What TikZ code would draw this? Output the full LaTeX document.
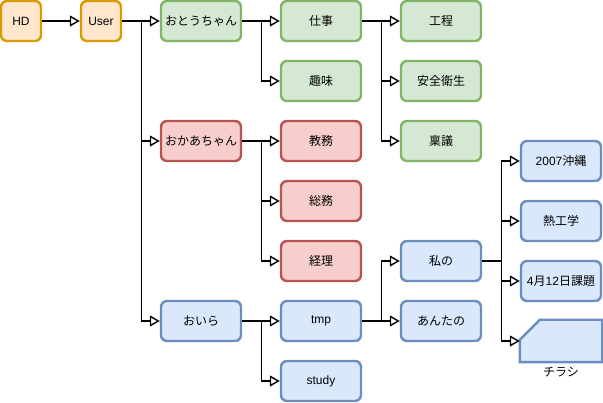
\documentclass[tikz,border=0pt]{standalone}
\usepackage{fontspec}
\setmainfont{Liberation Sans}
\newfontfamily\jp{Noto Sans CJK JP}
\usetikzlibrary{arrows.meta,positioning}
\definecolor{orangefill}{HTML}{FFE6CC}
\definecolor{orangeline}{HTML}{D79B00}
\definecolor{greenfill}{HTML}{D5E8D4}
\definecolor{greenline}{HTML}{82B366}
\definecolor{redfill}{HTML}{F8CECC}
\definecolor{redline}{HTML}{B85450}
\definecolor{bluefill}{HTML}{DAE8FC}
\definecolor{blueline}{HTML}{6C8EBF}
\begin{document}
\begin{tikzpicture}[x=1pt, y=-1pt, every node/.style={font=\fontsize{12}{14}\selectfont},
    box/.style={rectangle, rounded corners=6pt, line width=2.4pt, minimum width=80pt, minimum height=40pt, inner sep=0pt},
    narrow/.style={minimum width=40pt},
    orangebox/.style={box, draw=orangeline, fill=orangefill},
    greenbox/.style={box, draw=greenline, fill=greenfill},
    redbox/.style={box, draw=redline, fill=redfill},
    bluebox/.style={box, draw=blueline, fill=bluefill},
    link/.style={line width=1.4pt, -{Triangle[length=10pt, width=11pt, fill=white]}}]
    \useasboundingbox (0,0) rectangle (603,403);

    \node[orangebox, narrow] (hd) at (21,21) {HD};
    \node[orangebox, narrow] (user) at (101,21) {User};

    \node[greenbox] (otochan) at (201,21) {\jp おとうちゃん};
    \node[greenbox] (shigoto) at (321,21) {\jp 仕事};
    \node[greenbox] (shumi) at (321,81) {\jp 趣味};
    \node[greenbox] (kotei) at (441,21) {\jp 工程};
    \node[greenbox] (anzen) at (441,81) {\jp 安全衛生};
    \node[greenbox] (ringi) at (441,141) {\jp 稟議};

    \node[redbox] (okachan) at (201,141) {\jp おかあちゃん};
    \node[redbox] (kyomu) at (321,141) {\jp 教務};
    \node[redbox] (somu) at (321,201) {\jp 総務};
    \node[redbox] (keiri) at (321,261) {\jp 経理};

    \node[bluebox] (oira) at (201,321) {\jp おいら};
    \node[bluebox] (tmp) at (321,321) {tmp};
    \node[bluebox] (study) at (321,381) {study};
    \node[bluebox] (watashi) at (441,261) {\jp 私の};
    \node[bluebox] (anta) at (441,321) {\jp あんたの};
    \node[bluebox] (okinawa) at (561,161) {2007{\jp 沖縄}};
    \node[bluebox] (netsu) at (561,221) {\jp 熱工学};
    \node[bluebox] (kadai) at (561,281) {4{\jp 月}12{\jp 日課題}};
    \node[box] (chirashi) at (561,341) {};
    \filldraw[draw=blueline, fill=bluefill, line width=2.4pt] (chirashi.south west) -- (chirashi.south east) -- (chirashi.north east)
        -- ([xshift=20pt]chirashi.north west) -- ([yshift=-20pt]chirashi.north west) -- cycle;
    \node[below=2pt of chirashi] (chirashitext) {\jp チラシ};

    \draw[link] (hd) -- (user);
    \draw[link] (user.east) -- ++(19,0) |- (otochan.west);
    \draw[link] (user.east) -- ++(19,0) |- (okachan.west);
    \draw[link] (user.east) -- ++(19,0) |- (oira.west);

    \draw[link] (otochan.east) -- ++(19,0) |- (shigoto.west);
    \draw[link] (otochan.east) -- ++(19,0) |- (shumi.west);
    \draw[link] (shigoto.east) -- ++(19,0) |- (kotei.west);
    \draw[link] (shigoto.east) -- ++(19,0) |- (anzen.west);
    \draw[link] (shigoto.east) -- ++(19,0) |- (ringi.west);

    \draw[link] (okachan.east) -- ++(19,0) |- (kyomu.west);
    \draw[link] (okachan.east) -- ++(19,0) |- (somu.west);
    \draw[link] (okachan.east) -- ++(19,0) |- (keiri.west);

    \draw[link] (oira.east) -- ++(19,0) |- (tmp.west);
    \draw[link] (oira.east) -- ++(19,0) |- (study.west);
    \draw[link] (tmp.east) -- ++(19,0) |- (watashi.west);
    \draw[link] (tmp.east) -- ++(19,0) |- (anta.west);
    \draw[link] (watashi.east) -- ++(19,0) |- (okinawa.west);
    \draw[link] (watashi.east) -- ++(19,0) |- (netsu.west);
    \draw[link] (watashi.east) -- ++(19,0) |- (kadai.west);
    \draw[link] (watashi.east) -- ++(19,0) |- (chirashi.west);
\end{tikzpicture}
\end{document}
